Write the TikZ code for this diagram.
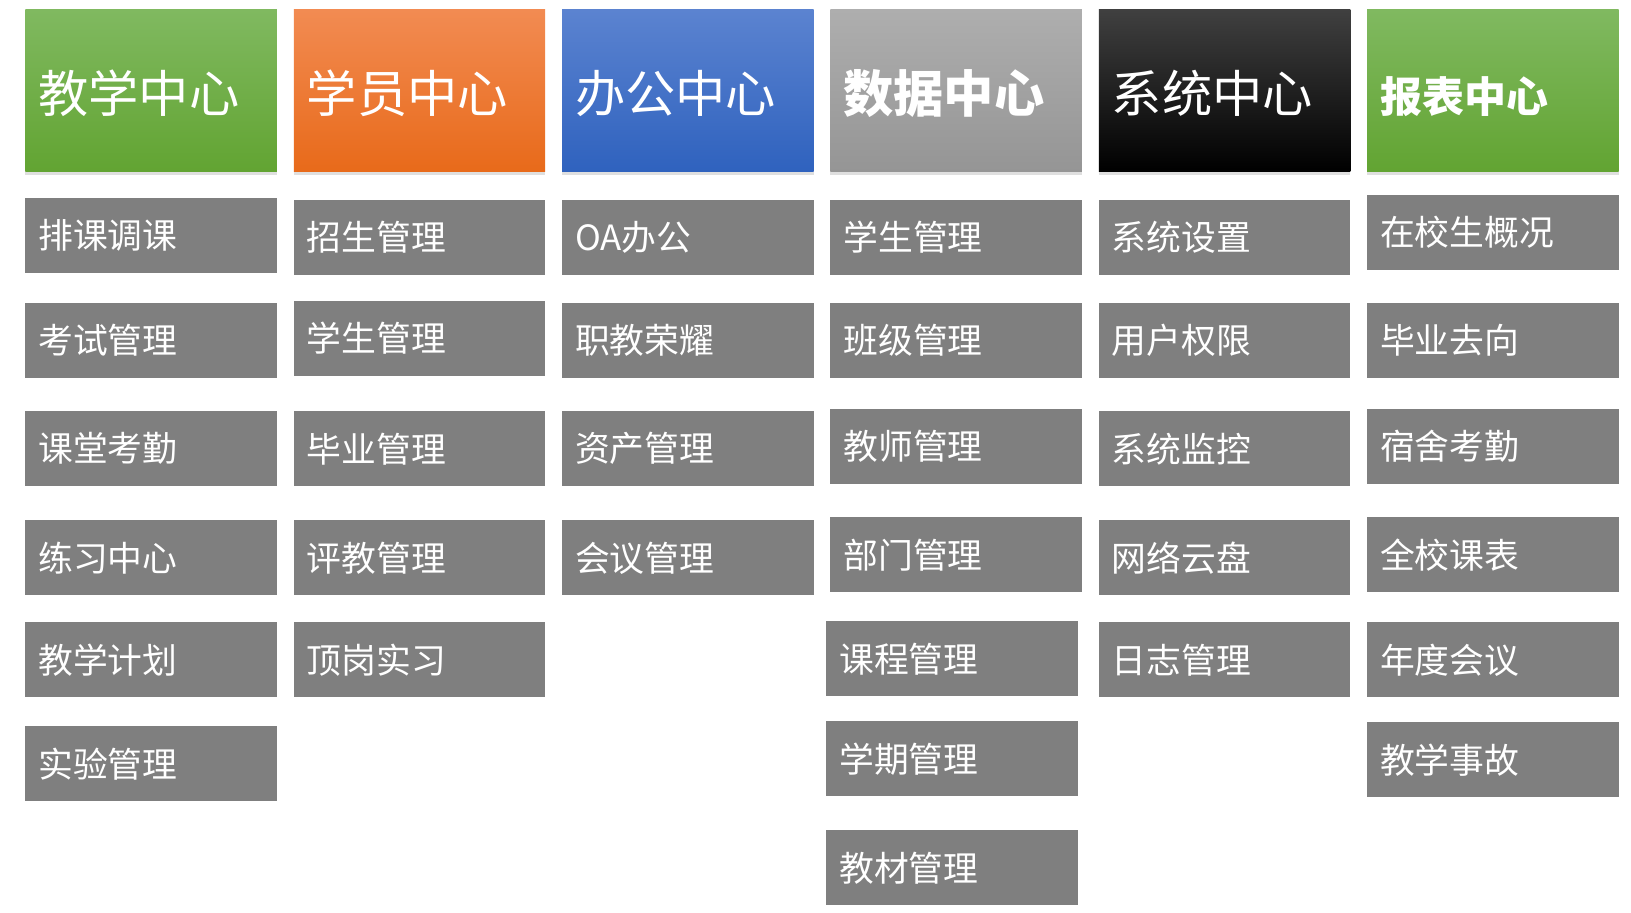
\documentclass[tikz,border=0pt]{standalone}
\usepackage{fontspec}
\setmainfont{Noto Sans CJK SC}
\usetikzlibrary{shadows}

\definecolor{itemgray}{HTML}{7F7F7F}
\definecolor{greentop}{HTML}{80B960}
\definecolor{greenbot}{HTML}{62A432}
\definecolor{orangetop}{HTML}{F28B52}
\definecolor{orangebot}{HTML}{E86A1A}
\definecolor{bluetop}{HTML}{5B83D0}
\definecolor{bluebot}{HTML}{2F62BE}
\definecolor{graytop}{HTML}{AEAEAE}
\definecolor{graybot}{HTML}{959595}

\tikzset{
  hdr/.style={anchor=north west, minimum width=5.03cm, minimum height=3.24cm,
    text width=4.51cm, inner xsep=0.26cm, align=left, text=white,
    text height=27.1pt, text depth=2pt,
    font=\fontsize{28.6}{34}\selectfont,
    drop shadow={shadow xshift=0pt, shadow yshift=-2pt, opacity=0.25}},
  item/.style={anchor=north west, fill=itemgray, minimum width=5.03cm, minimum height=1.5cm,
    text width=4.51cm, inner xsep=0.26cm, align=left, text=white,
    font=\fontsize{19.8}{24}\selectfont},
}

\begin{document}
\begin{tikzpicture}[x=0.02cm, y=-0.02cm]
    \useasboundingbox (0,0) rectangle (1631,912);

    % 各中心标题
    \node[hdr, top color=greentop, bottom color=greenbot] (jx) at (25,9.4) {教学中心};
    \node[hdr, top color=orangetop, bottom color=orangebot] (xy) at (293.4,9.4) {学员中心};
    \node[hdr, top color=bluetop, bottom color=bluebot] (bg) at (561.7,9.4) {办公中心};
    \node[hdr, top color=graytop, bottom color=graybot, font=\fontsize{28.6}{34}\selectfont\bfseries] (sj) at (830.1,9.4) {数据中心};
    \node[hdr, top color=black!75, middle color=black, bottom color=black] (xt) at (1098.5,9.4) {系统中心};
    \node[hdr, top color=greentop, bottom color=greenbot, font=\fontsize{23.9}{28}\selectfont\bfseries] (bb) at (1366.8,9.4) {报表中心};

    % 教学中心
    \node[item] (jx1) at (25,197.6) {排课调课};
    \node[item] (jx2) at (25,302.7) {考试管理};
    \node[item] (jx3) at (25,410.9) {课堂考勤};
    \node[item] (jx4) at (25,520.1) {练习中心};
    \node[item] (jx5) at (25,622.0) {教学计划};
    \node[item] (jx6) at (25,726.1) {实验管理};

    % 学员中心
    \node[item] (xy1) at (293.4,199.7) {招生管理};
    \node[item] (xy2) at (293.4,300.6) {学生管理};
    \node[item] (xy3) at (293.4,410.9) {毕业管理};
    \node[item] (xy4) at (293.4,520.1) {评教管理};
    \node[item] (xy5) at (293.4,622.0) {顶岗实习};

    % 办公中心
    \node[item] (bg1) at (561.7,199.7) {OA办公};
    \node[item] (bg2) at (561.7,302.7) {职教荣耀};
    \node[item] (bg3) at (561.7,410.9) {资产管理};
    \node[item] (bg4) at (561.7,520.1) {会议管理};

    % 数据中心
    \node[item] (sj1) at (830.1,199.7) {学生管理};
    \node[item] (sj2) at (830.1,302.7) {班级管理};
    \node[item] (sj3) at (830.1,408.8) {教师管理};
    \node[item] (sj4) at (830.1,517.0) {部门管理};
    \node[item] (sj5) at (826,621.0) {课程管理};
    \node[item] (sj6) at (826,720.9) {学期管理};
    \node[item] (sj7) at (826,830.1) {教材管理};

    % 系统中心
    \node[item] (xt1) at (1098.5,199.7) {系统设置};
    \node[item] (xt2) at (1098.5,302.7) {用户权限};
    \node[item] (xt3) at (1098.5,410.9) {系统监控};
    \node[item] (xt4) at (1098.5,520.1) {网络云盘};
    \node[item] (xt5) at (1098.5,622.0) {日志管理};

    % 报表中心
    \node[item] (bb1) at (1366.8,194.5) {在校生概况};
    \node[item] (bb2) at (1366.8,302.7) {毕业去向};
    \node[item] (bb3) at (1366.8,408.8) {宿舍考勤};
    \node[item] (bb4) at (1366.8,517.0) {全校课表};
    \node[item] (bb5) at (1366.8,622.0) {年度会议};
    \node[item] (bb6) at (1366.8,721.9) {教学事故};
\end{tikzpicture}
\end{document}
